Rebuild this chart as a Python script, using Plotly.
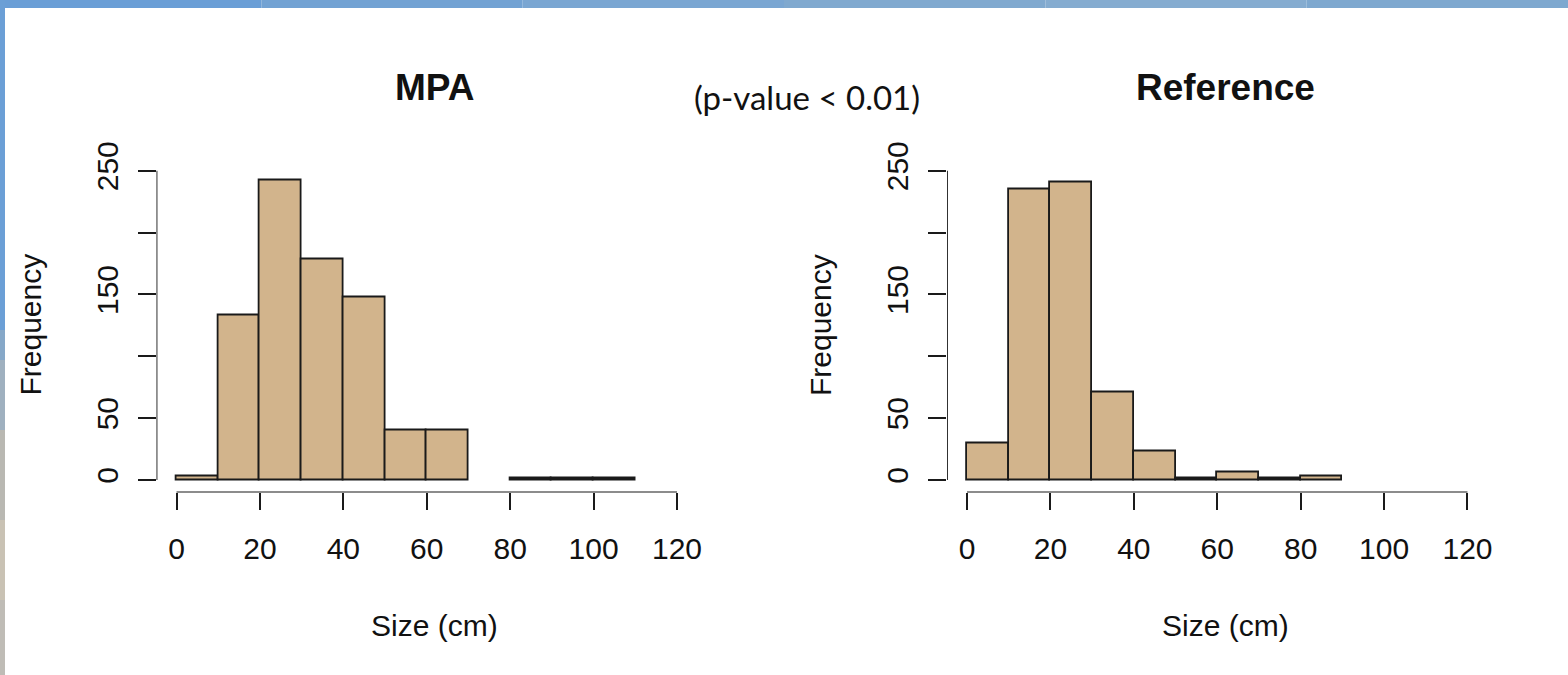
import plotly.graph_objects as go

# Histogram counts per 10 cm size class
bin_edges = [0, 10, 20, 30, 40, 50, 60, 70, 80, 90, 100, 110]
mpa_counts = [3, 133, 242, 178, 148, 40, 40, 0, 1, 1, 1]
ref_counts = [30, 235, 241, 71, 23, 1, 6, 1, 3, 0, 0]

x_ticks = [0, 20, 40, 60, 80, 100, 120]
y_ticks = [0, 50, 100, 150, 200, 250]
y_tick_text = ["0", "50", "", "150", "", "250"]

W, H = 1568, 675
SANS = "Liberation Sans, Arial, sans-serif"
AX_FONT = dict(family=SANS, size=30, color="#111111")
BAR_FILL = "#D2B48C"
INK = "#1a1a1a"

centers = [(a + b) / 2 for a, b in zip(bin_edges[:-1], bin_edges[1:])]
widths = [b - a for a, b in zip(bin_edges[:-1], bin_edges[1:])]

fig = go.Figure()

panels = [
    dict(counts=mpa_counts, xa="x", ya="y", title="MPA", px0=156.5, px1=697.0),
    dict(counts=ref_counts, xa="x2", ya="y2", title="Reference", px0=947.0, px1=1487.5),
]

y_bottom_px, y_top_px = 492.4, 158.4
ydom = [(H - y_bottom_px) / H, (H - y_top_px) / H]

shapes = []
annotations = []

for i, p in enumerate(panels):
    # empty classes are left undrawn
    keep = [k for k, c in enumerate(p["counts"]) if c > 0]
    fig.add_trace(go.Bar(
        x=[centers[k] for k in keep], y=[p["counts"][k] for k in keep],
        width=[widths[k] for k in keep],
        marker=dict(color=BAR_FILL, line=dict(color=INK, width=1.8)),
        xaxis=p["xa"], yaxis=p["ya"], showlegend=False, hoverinfo="x+y",
    ))
    suffix = "" if i == 0 else "2"
    fig.layout["xaxis" + suffix] = dict(
        domain=[p["px0"] / W, p["px1"] / W], range=[-4.8, 124.8],
        anchor="y" + suffix, tickvals=x_ticks, ticks="outside", ticklen=17,
        tickwidth=1.8, tickcolor=INK, showline=False, showgrid=False,
        zeroline=False, tickfont=AX_FONT, ticklabelstandoff=13,
        automargin=False, fixedrange=True,
    )
    fig.layout["yaxis" + suffix] = dict(
        domain=ydom, range=[-10, 260], anchor="x" + suffix,
        tickvals=y_ticks, ticktext=y_tick_text, tickangle=-90,
        ticks="outside", ticklen=18, tickwidth=1.8, tickcolor=INK,
        showline=False, showgrid=False, zeroline=False, tickfont=AX_FONT,
        ticklabelstandoff=8, automargin=False, fixedrange=True,
    )
    # R-style axis lines that span only the tick range
    shapes.append(dict(type="line", xref=p["xa"], yref=p["ya"],
                       x0=x_ticks[0], x1=x_ticks[-1], y0=-10, y1=-10,
                       line=dict(color=INK, width=1.8)))
    shapes.append(dict(type="line", xref=p["xa"], yref=p["ya"],
                       x0=-4.8, x1=-4.8, y0=y_ticks[0], y1=y_ticks[-1],
                       line=dict(color=INK, width=1.8)))

    cx = (p["px0"] + p["px1"]) / 2 + 8
    annotations.append(dict(text="<b>" + p["title"] + "</b>", x=cx / W, y=(H - 88) / H,
                            xref="paper", yref="paper", showarrow=False,
                            font=dict(family=SANS, size=37, color="#111111"),
                            xanchor="center", yanchor="middle"))
    annotations.append(dict(text="Size (cm)", x=cx / W, y=(H - 625) / H,
                            xref="paper", yref="paper", showarrow=False, font=AX_FONT,
                            xanchor="center", yanchor="middle"))
    annotations.append(dict(text="Frequency", x=(p["px0"] - 127) / W, y=(H - 325) / H,
                            xref="paper", yref="paper", showarrow=False, font=AX_FONT,
                            textangle=-90, xanchor="center", yanchor="middle"))

annotations.append(dict(text="(p-value < 0.01)", x=807 / W, y=(H - 97) / H,
                        xref="paper", yref="paper", showarrow=False,
                        font=dict(family="Lato, Carlito, sans-serif", size=33, color="#111111"),
                        xanchor="center", yanchor="middle"))

# Slide backdrop: blue band along the top, photo-toned band down the left edge
top_cols = ["#6a9ed6", "#72a2d3", "#7aa6d2", "#80a9cf", "#85acd0", "#7ea8cf"]
seg = W / len(top_cols)
for k, c in enumerate(top_cols):
    shapes.append(dict(type="rect", xref="paper", yref="paper",
                       x0=k * seg / W, x1=(k + 1) * seg / W, y0=(H - 8) / H, y1=1,
                       fillcolor=c, line=dict(width=0), layer="below"))
left_bands = [(0, 330, "#6b9fd6"), (330, 360, "#86a8c8"), (360, 430, "#9fb0bf"),
              (430, 520, "#b9b8b2"), (520, 600, "#c9c2b4"), (600, 675, "#bfbcb6")]
for y0, y1, c in left_bands:
    shapes.append(dict(type="rect", xref="paper", yref="paper",
                       x0=0, x1=5 / W, y0=(H - y1) / H, y1=(H - y0) / H,
                       fillcolor=c, line=dict(width=0), layer="below"))

fig.update_layout(
    width=W, height=H, autosize=False,
    margin=dict(l=0, r=0, t=0, b=0, pad=0, autoexpand=False),
    paper_bgcolor="white", plot_bgcolor="rgba(0,0,0,0)",
    shapes=shapes, annotations=annotations, bargap=0, showlegend=False,
)

fig.write_html("out.html", config={"displayModeBar": False})
